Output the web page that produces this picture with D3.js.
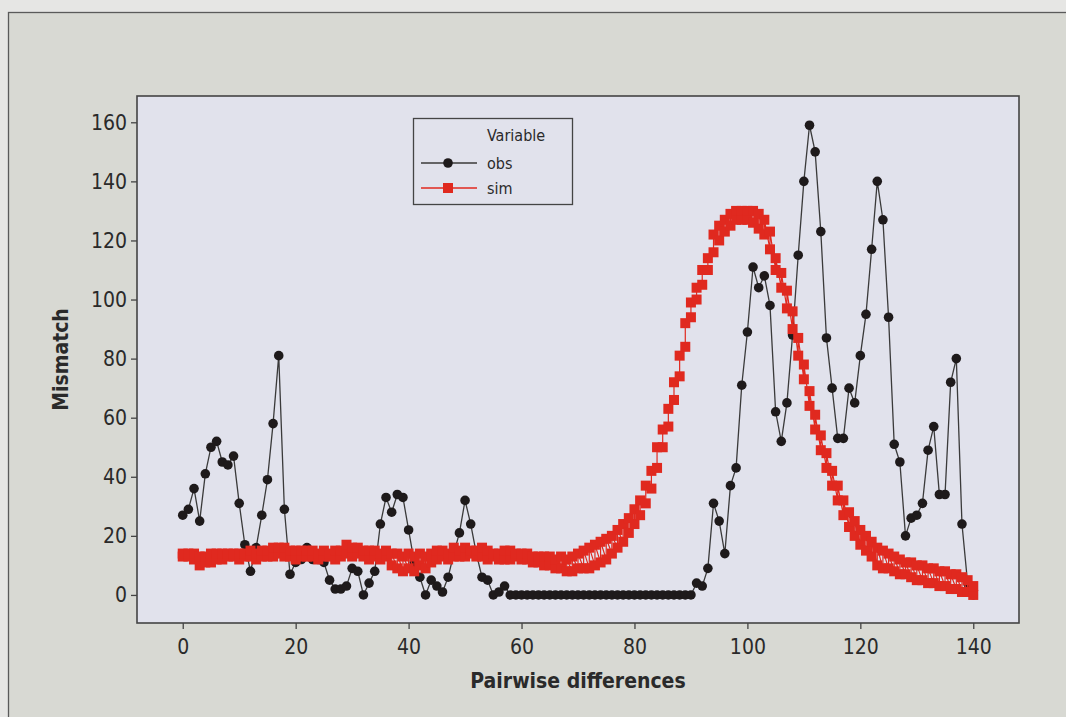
<!DOCTYPE html>
<html><head><meta charset="utf-8">
<script src="https://cdn.jsdelivr.net/npm/d3@7/dist/d3.min.js"></script>
<style>
body{margin:0;background:#e6e6e4;}
svg{display:block;}
text{font-family:"DejaVu Sans Condensed","DejaVu Sans",sans-serif;fill:#2a2a2a;}
</style>
</head><body>
<svg id="c" width="1066" height="717"></svg>
<script>
// ---- data ----
const obs = [27,29,36,25,41,50,52,45,44,47,31,17,8,16,27,39,58,81,29,7,
  11,12,16,12,12,11,5,2,2,3,9,8,0,4,8,24,33,28,34,33,
  22,11,6,0,5,3,1,6,14,21,32,24,14,6,5,0,1,3,0,0,
  0,0,0,0,0,0,0,0,0,0,0,0,0,0,0,0,0,0,0,0,
  0,0,0,0,0,0,0,0,0,0,0,4,3,9,31,25,14,37,43,71,
  89,111,104,108,98,62,52,65,88,115,140,159,150,123,87,70,53,53,70,65,
  81,95,117,140,127,94,51,45,20,26,27,31,49,57,34,34,72,80,24,4,0];
const simA = [13,13,12,10,11,11,12,12,13,13,12,13,13,12,13,13,13,14,13,13,
  12,13,13,13,12,13,13,12,13,14,13,14,13,12,13,12,13,10,9,8,
  9,8,10,9,11,12,13,12,13,13,13,14,13,13,12,13,12,12,12,13,
  12,12,11,11,10,10,9,9,8,8,9,9,9,10,11,12,14,16,18,21,
  24,27,31,36,43,50,57,66,74,84,94,100,105,110,116,120,123,125,127,127,
  127,126,124,122,117,110,104,97,90,81,73,64,56,49,43,37,32,27,23,20,
  17,15,13,10,9,9,8,7,7,6,5,5,4,4,3,3,2,2,1,1,0];
const simB = [14,14,14,13,13,14,14,14,14,14,14,14,15,14,15,15,16,16,16,15,
  15,15,15,15,14,15,14,15,15,17,16,16,15,15,15,14,15,14,14,13,
  14,13,14,13,14,15,15,14,16,15,16,15,15,16,15,14,14,15,15,14,
  14,14,13,13,13,13,12,13,12,13,14,15,16,17,18,19,20,22,24,26,
  29,32,37,42,50,56,63,72,81,92,99,104,110,114,122,125,127,129,130,130,
  130,130,129,127,123,114,109,103,96,87,78,69,61,54,48,42,37,32,28,25,
  22,20,18,16,15,14,13,12,11,11,10,10,9,9,8,8,7,7,6,5,3];
const xTicks = [0,20,40,60,80,100,120,140];
const yTicks = [0,20,40,60,80,100,120,140,160];
const seriesNames = ["obs","sim"];
const legendTitle = "Variable";
const xTitle = "Pairwise differences";
const yTitle = "Mismatch";

// ---- layout ----
const svg = d3.select("#c");
const W = 1066, H = 717;
const P = {l:137, t:96, r:1019, b:623};
const x = d3.scaleLinear().domain([-8.1,148.1]).range([P.l,P.r]);
const y = d3.scaleLinear().domain([-9.5,168.9]).range([P.b,P.t]);

// outer background & frame
svg.append("rect").attr("x",0).attr("y",0).attr("width",W).attr("height",H).attr("fill","#e6e6e4");
svg.append("rect").attr("x",8.5).attr("y",12.5).attr("width",W+20).attr("height",H+20)
  .attr("fill","#d8d9d3").attr("stroke","#5a5a5a").attr("stroke-width",1.3);

// plot area
svg.append("rect").attr("x",P.l).attr("y",P.t).attr("width",P.r-P.l).attr("height",P.b-P.t)
  .attr("fill","#e1e2ec");

const obsPts = obs.map((v,i)=>[i,v]);
const simPts = [];
simA.forEach((v,i)=>{ simPts.push([i,v]); simPts.push([i,simB[i]]); });

const line = d3.line().x(d=>x(d[0])).y(d=>y(d[1]));
const g = svg.append("g");
g.append("path").datum(obsPts).attr("d",line).attr("fill","none").attr("stroke","#3a3a3a").attr("stroke-width",1.3);
g.selectAll("circle.o").data(obsPts).join("circle").attr("class","o")
  .attr("cx",d=>x(d[0])).attr("cy",d=>y(d[1])).attr("r",4.8).attr("fill","#1e1a1b");
g.append("path").datum(simPts).attr("d",line).attr("fill","none").attr("stroke","#e0291f").attr("stroke-width",1.2);
const S = 10;
g.selectAll("rect.s").data(simPts).join("rect").attr("class","s")
  .attr("x",d=>x(d[0])-S/2).attr("y",d=>y(d[1])-S/2).attr("width",S).attr("height",S).attr("fill","#e0291f");

// plot border
svg.append("rect").attr("x",P.l).attr("y",P.t).attr("width",P.r-P.l).attr("height",P.b-P.t)
  .attr("fill","none").attr("stroke","#444").attr("stroke-width",1.6);

// axes
const xa = svg.append("g").attr("transform",`translate(0,${P.b})`)
  .call(d3.axisBottom(x).tickValues(xTicks).tickSize(6).tickPadding(10));
const ya = svg.append("g").attr("transform",`translate(${P.l},0)`)
  .call(d3.axisLeft(y).tickValues(yTicks).tickSize(6).tickPadding(4));
[xa,ya].forEach(a=>{
  a.select(".domain").remove();
  a.selectAll(".tick line").attr("stroke","#444").attr("stroke-width",1.3);
  a.selectAll(".tick text").attr("font-size",21).attr("fill","#2a2a2a")
    .style("font-family",'"DejaVu Sans Condensed","DejaVu Sans",sans-serif');
});

// titles
svg.append("text").attr("x",(P.l+P.r)/2).attr("y",688).attr("text-anchor","middle")
  .attr("font-size",21).attr("font-weight","bold").text(xTitle);
svg.append("text").attr("transform",`translate(68,${(P.t+P.b)/2}) rotate(-90)`).attr("text-anchor","middle")
  .attr("font-size",21).attr("font-weight","bold").text(yTitle);

// legend
const L = svg.append("g");
L.append("rect").attr("x",413.5).attr("y",118.5).attr("width",159).attr("height",86)
  .attr("fill","#e1e2ec").attr("stroke","#444").attr("stroke-width",1.3);
L.append("text").attr("x",487).attr("y",141).attr("font-size",16).text(legendTitle);
const ly = [163,188];
const cols = ["#3a3a3a","#e0291f"];
seriesNames.forEach((n,i)=>{
  L.append("line").attr("x1",421).attr("x2",477).attr("y1",ly[i]).attr("y2",ly[i])
    .attr("stroke",cols[i]).attr("stroke-width",1.3);
  if(i===0) L.append("circle").attr("cx",448).attr("cy",ly[i]).attr("r",4.8).attr("fill","#1e1a1b");
  else L.append("rect").attr("x",443).attr("y",ly[i]-5).attr("width",10).attr("height",10).attr("fill","#e0291f");
  L.append("text").attr("x",487).attr("y",ly[i]+6).attr("font-size",16).text(n);
});
</script>
</body></html>
